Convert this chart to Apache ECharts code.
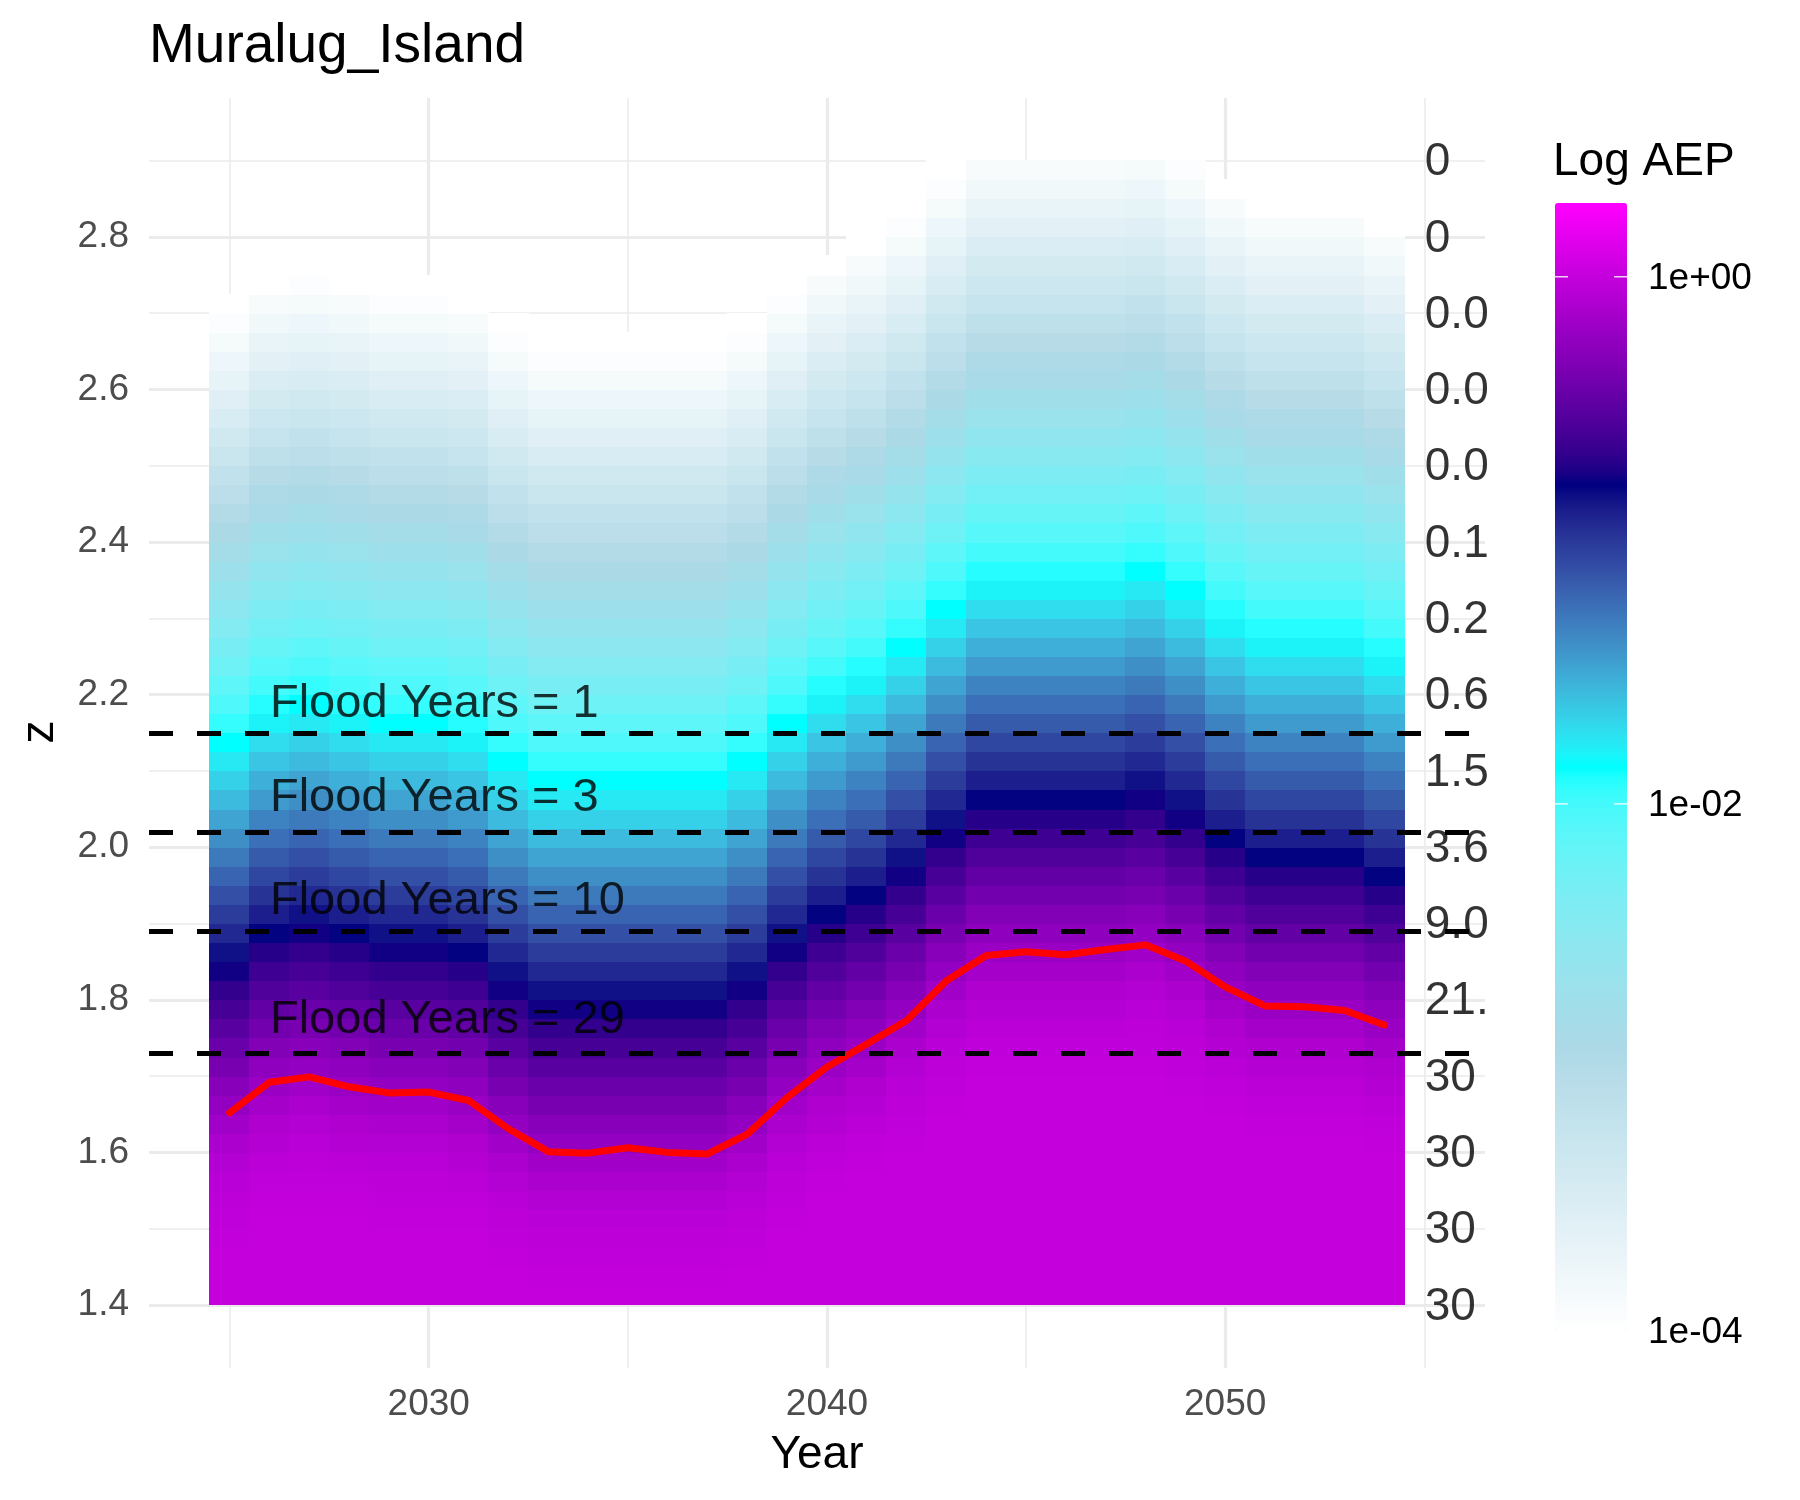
<!DOCTYPE html>
<html><head><meta charset="utf-8">
<script src="https://cdn.jsdelivr.net/npm/echarts@6/dist/echarts.min.js"></script>
<style>html,body{margin:0;padding:0;background:#fff}#c{width:1800px;height:1500px}</style>
</head><body><div id="c"></div>
<script>
// ---------------- data ----------------
const years = [2025,2026,2027,2028,2029,2030,2031,2032,2033,2034,2035,2036,2037,2038,2039,2040,2041,2042,2043,2044,2045,2046,2047,2048,2049,2050,2051,2052,2053,2054];
const zCenters = [1.4125,1.4375,1.4625,1.4875,1.5125,1.5375,1.5625,1.5875,1.6125,1.6375,1.6625,1.6875,1.7125,1.7375,1.7625,1.7875,1.8125,1.8375,1.8625,1.8875,1.9125,1.9375,1.9625,1.9875,2.0125,2.0375,2.0625,2.0875,2.1125,2.1375,2.1625,2.1875,2.2125,2.2375,2.2625,2.2875,2.3125,2.3375,2.3625,2.3875,2.4125,2.4375,2.4625,2.4875,2.5125,2.5375,2.5625,2.5875,2.6125,2.6375,2.6625,2.6875,2.7125,2.7375,2.7625,2.7875,2.8125,2.8375,2.8625,2.8875];
// log10 AEP per z cell (bottom to top), one array per year
const aep2025 = [0,0,0,-0.01,-0.02,-0.03,-0.05,-0.08,-0.12,-0.17,-0.23,-0.29,-0.36,-0.43,-0.51,-0.59,-0.67,-0.76,-0.84,-0.93,-1.02,-1.11,-1.2,-1.3,-1.39,-1.48,-1.58,-1.67,-1.77,-1.86,-1.95,-2.05,-2.14,-2.24,-2.33,-2.43,-2.52,-2.62,-2.71,-2.81,-2.91,-3,-3.1,-3.19,-3.29,-3.38,-3.48,-3.57,-3.67,-3.76,-3.86,-3.95,-4];
const aep2026 = [0,0,0,0,0,-0.01,-0.02,-0.04,-0.07,-0.1,-0.15,-0.2,-0.26,-0.32,-0.39,-0.47,-0.55,-0.63,-0.71,-0.8,-0.89,-0.98,-1.07,-1.16,-1.25,-1.34,-1.44,-1.53,-1.62,-1.72,-1.81,-1.91,-2,-2.1,-2.19,-2.29,-2.38,-2.48,-2.57,-2.67,-2.76,-2.86,-2.95,-3.05,-3.14,-3.24,-3.33,-3.43,-3.52,-3.62,-3.71,-3.81,-3.9,-4];
const aep2027 = [0,0,0,0,0,-0.01,-0.02,-0.03,-0.05,-0.08,-0.12,-0.17,-0.23,-0.29,-0.36,-0.43,-0.51,-0.59,-0.67,-0.76,-0.84,-0.93,-1.02,-1.11,-1.2,-1.3,-1.39,-1.48,-1.58,-1.67,-1.77,-1.86,-1.95,-2.05,-2.14,-2.24,-2.33,-2.43,-2.52,-2.62,-2.71,-2.81,-2.91,-3,-3.1,-3.19,-3.29,-3.38,-3.48,-3.57,-3.67,-3.76,-3.86,-3.95,-4];
const aep2028 = [0,0,0,0,0,-0.01,-0.02,-0.04,-0.07,-0.1,-0.15,-0.2,-0.26,-0.32,-0.39,-0.47,-0.55,-0.63,-0.71,-0.8,-0.89,-0.98,-1.07,-1.16,-1.25,-1.34,-1.44,-1.53,-1.62,-1.72,-1.81,-1.91,-2,-2.1,-2.19,-2.29,-2.38,-2.48,-2.57,-2.67,-2.76,-2.86,-2.95,-3.05,-3.14,-3.24,-3.33,-3.43,-3.52,-3.62,-3.71,-3.81,-3.9,-4];
const aep2029 = [0,0,0,0,-0.01,-0.02,-0.03,-0.05,-0.08,-0.12,-0.17,-0.23,-0.29,-0.36,-0.43,-0.51,-0.59,-0.67,-0.76,-0.84,-0.93,-1.02,-1.11,-1.2,-1.3,-1.39,-1.48,-1.58,-1.67,-1.77,-1.86,-1.95,-2.05,-2.14,-2.24,-2.33,-2.43,-2.52,-2.62,-2.71,-2.81,-2.91,-3,-3.1,-3.19,-3.29,-3.38,-3.48,-3.57,-3.67,-3.76,-3.86,-3.95,-4];
const aep2030 = [0,0,0,0,-0.01,-0.02,-0.03,-0.05,-0.08,-0.12,-0.17,-0.23,-0.29,-0.36,-0.43,-0.51,-0.59,-0.67,-0.76,-0.84,-0.93,-1.02,-1.11,-1.2,-1.3,-1.39,-1.48,-1.58,-1.67,-1.77,-1.86,-1.95,-2.05,-2.14,-2.24,-2.33,-2.43,-2.52,-2.62,-2.71,-2.81,-2.91,-3,-3.1,-3.19,-3.29,-3.38,-3.48,-3.57,-3.67,-3.76,-3.86,-3.95,-4];
const aep2031 = [0,0,0,0,-0.01,-0.02,-0.04,-0.07,-0.1,-0.15,-0.2,-0.26,-0.32,-0.39,-0.47,-0.55,-0.63,-0.71,-0.8,-0.89,-0.98,-1.07,-1.16,-1.25,-1.34,-1.44,-1.53,-1.62,-1.72,-1.81,-1.91,-2,-2.1,-2.19,-2.29,-2.38,-2.48,-2.57,-2.67,-2.76,-2.86,-2.95,-3.05,-3.14,-3.24,-3.33,-3.43,-3.52,-3.62,-3.71,-3.81,-3.9,-4];
const aep2032 = [0,0,-0.01,-0.02,-0.03,-0.05,-0.08,-0.12,-0.17,-0.23,-0.29,-0.36,-0.43,-0.51,-0.59,-0.67,-0.76,-0.84,-0.93,-1.02,-1.11,-1.2,-1.3,-1.39,-1.48,-1.58,-1.67,-1.77,-1.86,-1.95,-2.05,-2.14,-2.24,-2.33,-2.43,-2.52,-2.62,-2.71,-2.81,-2.91,-3,-3.1,-3.19,-3.29,-3.38,-3.48,-3.57,-3.67,-3.76,-3.86,-3.95,-4];
const aep2033 = [0,-0.01,-0.02,-0.03,-0.05,-0.08,-0.12,-0.17,-0.23,-0.29,-0.36,-0.43,-0.51,-0.59,-0.67,-0.76,-0.84,-0.93,-1.02,-1.11,-1.2,-1.3,-1.39,-1.48,-1.58,-1.67,-1.77,-1.86,-1.95,-2.05,-2.14,-2.24,-2.33,-2.43,-2.52,-2.62,-2.71,-2.81,-2.91,-3,-3.1,-3.19,-3.29,-3.38,-3.48,-3.57,-3.67,-3.76,-3.86,-3.95,-4];
const aep2034 = [0,-0.01,-0.02,-0.03,-0.05,-0.08,-0.12,-0.17,-0.23,-0.29,-0.36,-0.43,-0.51,-0.59,-0.67,-0.76,-0.84,-0.93,-1.02,-1.11,-1.2,-1.3,-1.39,-1.48,-1.58,-1.67,-1.77,-1.86,-1.95,-2.05,-2.14,-2.24,-2.33,-2.43,-2.52,-2.62,-2.71,-2.81,-2.91,-3,-3.1,-3.19,-3.29,-3.38,-3.48,-3.57,-3.67,-3.76,-3.86,-3.95,-4];
const aep2035 = [0,-0.01,-0.02,-0.03,-0.05,-0.08,-0.12,-0.17,-0.23,-0.29,-0.36,-0.43,-0.51,-0.59,-0.67,-0.76,-0.84,-0.93,-1.02,-1.11,-1.2,-1.3,-1.39,-1.48,-1.58,-1.67,-1.77,-1.86,-1.95,-2.05,-2.14,-2.24,-2.33,-2.43,-2.52,-2.62,-2.71,-2.81,-2.91,-3,-3.1,-3.19,-3.29,-3.38,-3.48,-3.57,-3.67,-3.76,-3.86,-3.95,-4];
const aep2036 = [0,-0.01,-0.02,-0.03,-0.05,-0.08,-0.12,-0.17,-0.23,-0.29,-0.36,-0.43,-0.51,-0.59,-0.67,-0.76,-0.84,-0.93,-1.02,-1.11,-1.2,-1.3,-1.39,-1.48,-1.58,-1.67,-1.77,-1.86,-1.95,-2.05,-2.14,-2.24,-2.33,-2.43,-2.52,-2.62,-2.71,-2.81,-2.91,-3,-3.1,-3.19,-3.29,-3.38,-3.48,-3.57,-3.67,-3.76,-3.86,-3.95,-4];
const aep2037 = [0,-0.01,-0.02,-0.03,-0.05,-0.08,-0.12,-0.17,-0.23,-0.29,-0.36,-0.43,-0.51,-0.59,-0.67,-0.76,-0.84,-0.93,-1.02,-1.11,-1.2,-1.3,-1.39,-1.48,-1.58,-1.67,-1.77,-1.86,-1.95,-2.05,-2.14,-2.24,-2.33,-2.43,-2.52,-2.62,-2.71,-2.81,-2.91,-3,-3.1,-3.19,-3.29,-3.38,-3.48,-3.57,-3.67,-3.76,-3.86,-3.95,-4];
const aep2038 = [0,0,-0.01,-0.02,-0.03,-0.05,-0.08,-0.12,-0.17,-0.23,-0.29,-0.36,-0.43,-0.51,-0.59,-0.67,-0.76,-0.84,-0.93,-1.02,-1.11,-1.2,-1.3,-1.39,-1.48,-1.58,-1.67,-1.77,-1.86,-1.95,-2.05,-2.14,-2.24,-2.33,-2.43,-2.52,-2.62,-2.71,-2.81,-2.91,-3,-3.1,-3.19,-3.29,-3.38,-3.48,-3.57,-3.67,-3.76,-3.86,-3.95,-4];
const aep2039 = [0,0,0,0,-0.01,-0.02,-0.03,-0.05,-0.08,-0.12,-0.17,-0.23,-0.29,-0.36,-0.43,-0.51,-0.59,-0.67,-0.76,-0.84,-0.93,-1.02,-1.11,-1.2,-1.3,-1.39,-1.48,-1.58,-1.67,-1.77,-1.86,-1.95,-2.05,-2.14,-2.24,-2.33,-2.43,-2.52,-2.62,-2.71,-2.81,-2.91,-3,-3.1,-3.19,-3.29,-3.38,-3.48,-3.57,-3.67,-3.76,-3.86,-3.95,-4];
const aep2040 = [0,0,0,0,0,0,-0.01,-0.02,-0.04,-0.07,-0.1,-0.15,-0.2,-0.26,-0.32,-0.39,-0.47,-0.55,-0.63,-0.71,-0.8,-0.89,-0.98,-1.07,-1.16,-1.25,-1.34,-1.44,-1.53,-1.62,-1.72,-1.81,-1.91,-2,-2.1,-2.19,-2.29,-2.38,-2.48,-2.57,-2.67,-2.76,-2.86,-2.95,-3.05,-3.14,-3.24,-3.33,-3.43,-3.52,-3.62,-3.71,-3.81,-3.9,-4];
const aep2041 = [0,0,0,0,0,0,0,-0.01,-0.02,-0.04,-0.07,-0.1,-0.15,-0.2,-0.26,-0.32,-0.39,-0.47,-0.55,-0.63,-0.71,-0.8,-0.89,-0.98,-1.07,-1.16,-1.25,-1.34,-1.44,-1.53,-1.62,-1.72,-1.81,-1.91,-2,-2.1,-2.19,-2.29,-2.38,-2.48,-2.57,-2.67,-2.76,-2.86,-2.95,-3.05,-3.14,-3.24,-3.33,-3.43,-3.52,-3.62,-3.71,-3.81,-3.9,-4];
const aep2042 = [0,0,0,0,0,0,0,0,-0.01,-0.02,-0.03,-0.05,-0.08,-0.12,-0.17,-0.23,-0.29,-0.36,-0.43,-0.51,-0.59,-0.67,-0.76,-0.84,-0.93,-1.02,-1.11,-1.2,-1.3,-1.39,-1.48,-1.58,-1.67,-1.77,-1.86,-1.95,-2.05,-2.14,-2.24,-2.33,-2.43,-2.52,-2.62,-2.71,-2.81,-2.91,-3,-3.1,-3.19,-3.29,-3.38,-3.48,-3.57,-3.67,-3.76,-3.86,-3.95,-4];
const aep2043 = [0,0,0,0,0,0,0,0,0,0,-0.01,-0.02,-0.03,-0.05,-0.08,-0.12,-0.17,-0.23,-0.29,-0.36,-0.43,-0.51,-0.59,-0.67,-0.76,-0.84,-0.93,-1.02,-1.11,-1.2,-1.3,-1.39,-1.48,-1.58,-1.67,-1.77,-1.86,-1.95,-2.05,-2.14,-2.24,-2.33,-2.43,-2.52,-2.62,-2.71,-2.81,-2.91,-3,-3.1,-3.19,-3.29,-3.38,-3.48,-3.57,-3.67,-3.76,-3.86,-3.95,-4];
const aep2044 = [0,0,0,0,0,0,0,0,0,0,0,0,-0.01,-0.02,-0.04,-0.07,-0.1,-0.15,-0.2,-0.26,-0.32,-0.39,-0.47,-0.55,-0.63,-0.71,-0.8,-0.89,-0.98,-1.07,-1.16,-1.25,-1.34,-1.44,-1.53,-1.62,-1.72,-1.81,-1.91,-2,-2.1,-2.19,-2.29,-2.38,-2.48,-2.57,-2.67,-2.76,-2.86,-2.95,-3.05,-3.14,-3.24,-3.33,-3.43,-3.52,-3.62,-3.71,-3.81,-3.9];
const aep2045 = [0,0,0,0,0,0,0,0,0,0,0,0,-0.01,-0.02,-0.04,-0.07,-0.1,-0.15,-0.2,-0.26,-0.32,-0.39,-0.47,-0.55,-0.63,-0.71,-0.8,-0.89,-0.98,-1.07,-1.16,-1.25,-1.34,-1.44,-1.53,-1.62,-1.72,-1.81,-1.91,-2,-2.1,-2.19,-2.29,-2.38,-2.48,-2.57,-2.67,-2.76,-2.86,-2.95,-3.05,-3.14,-3.24,-3.33,-3.43,-3.52,-3.62,-3.71,-3.81,-3.9];
const aep2046 = [0,0,0,0,0,0,0,0,0,0,0,0,-0.01,-0.02,-0.04,-0.07,-0.1,-0.15,-0.2,-0.26,-0.32,-0.39,-0.47,-0.55,-0.63,-0.71,-0.8,-0.89,-0.98,-1.07,-1.16,-1.25,-1.34,-1.44,-1.53,-1.62,-1.72,-1.81,-1.91,-2,-2.1,-2.19,-2.29,-2.38,-2.48,-2.57,-2.67,-2.76,-2.86,-2.95,-3.05,-3.14,-3.24,-3.33,-3.43,-3.52,-3.62,-3.71,-3.81,-3.9];
const aep2047 = [0,0,0,0,0,0,0,0,0,0,0,0,-0.01,-0.02,-0.04,-0.07,-0.1,-0.15,-0.2,-0.26,-0.32,-0.39,-0.47,-0.55,-0.63,-0.71,-0.8,-0.89,-0.98,-1.07,-1.16,-1.25,-1.34,-1.44,-1.53,-1.62,-1.72,-1.81,-1.91,-2,-2.1,-2.19,-2.29,-2.38,-2.48,-2.57,-2.67,-2.76,-2.86,-2.95,-3.05,-3.14,-3.24,-3.33,-3.43,-3.52,-3.62,-3.71,-3.81,-3.9];
const aep2048 = [0,0,0,0,0,0,0,0,0,0,0,0,-0.01,-0.02,-0.03,-0.05,-0.08,-0.12,-0.17,-0.23,-0.29,-0.36,-0.43,-0.51,-0.59,-0.67,-0.76,-0.84,-0.93,-1.02,-1.11,-1.2,-1.3,-1.39,-1.48,-1.58,-1.67,-1.77,-1.86,-1.95,-2.05,-2.14,-2.24,-2.33,-2.43,-2.52,-2.62,-2.71,-2.81,-2.91,-3,-3.1,-3.19,-3.29,-3.38,-3.48,-3.57,-3.67,-3.76,-3.86];
const aep2049 = [0,0,0,0,0,0,0,0,0,0,0,-0.01,-0.02,-0.03,-0.05,-0.08,-0.12,-0.17,-0.23,-0.29,-0.36,-0.43,-0.51,-0.59,-0.67,-0.76,-0.84,-0.93,-1.02,-1.11,-1.2,-1.3,-1.39,-1.48,-1.58,-1.67,-1.77,-1.86,-1.95,-2.05,-2.14,-2.24,-2.33,-2.43,-2.52,-2.62,-2.71,-2.81,-2.91,-3,-3.1,-3.19,-3.29,-3.38,-3.48,-3.57,-3.67,-3.76,-3.86,-3.95];
const aep2050 = [0,0,0,0,0,0,0,0,0,0,-0.01,-0.02,-0.04,-0.07,-0.1,-0.15,-0.2,-0.26,-0.32,-0.39,-0.47,-0.55,-0.63,-0.71,-0.8,-0.89,-0.98,-1.07,-1.16,-1.25,-1.34,-1.44,-1.53,-1.62,-1.72,-1.81,-1.91,-2,-2.1,-2.19,-2.29,-2.38,-2.48,-2.57,-2.67,-2.76,-2.86,-2.95,-3.05,-3.14,-3.24,-3.33,-3.43,-3.52,-3.62,-3.71,-3.81,-3.9,-4];
const aep2051 = [0,0,0,0,0,0,0,0,0,-0.01,-0.02,-0.04,-0.07,-0.1,-0.15,-0.2,-0.26,-0.32,-0.39,-0.47,-0.55,-0.63,-0.71,-0.8,-0.89,-0.98,-1.07,-1.16,-1.25,-1.34,-1.44,-1.53,-1.62,-1.72,-1.81,-1.91,-2,-2.1,-2.19,-2.29,-2.38,-2.48,-2.57,-2.67,-2.76,-2.86,-2.95,-3.05,-3.14,-3.24,-3.33,-3.43,-3.52,-3.62,-3.71,-3.81,-3.9,-4];
const aep2052 = [0,0,0,0,0,0,0,0,0,-0.01,-0.02,-0.04,-0.07,-0.1,-0.15,-0.2,-0.26,-0.32,-0.39,-0.47,-0.55,-0.63,-0.71,-0.8,-0.89,-0.98,-1.07,-1.16,-1.25,-1.34,-1.44,-1.53,-1.62,-1.72,-1.81,-1.91,-2,-2.1,-2.19,-2.29,-2.38,-2.48,-2.57,-2.67,-2.76,-2.86,-2.95,-3.05,-3.14,-3.24,-3.33,-3.43,-3.52,-3.62,-3.71,-3.81,-3.9,-4];
const aep2053 = [0,0,0,0,0,0,0,0,0,-0.01,-0.02,-0.04,-0.07,-0.1,-0.15,-0.2,-0.26,-0.32,-0.39,-0.47,-0.55,-0.63,-0.71,-0.8,-0.89,-0.98,-1.07,-1.16,-1.25,-1.34,-1.44,-1.53,-1.62,-1.72,-1.81,-1.91,-2,-2.1,-2.19,-2.29,-2.38,-2.48,-2.57,-2.67,-2.76,-2.86,-2.95,-3.05,-3.14,-3.24,-3.33,-3.43,-3.52,-3.62,-3.71,-3.81,-3.9,-4];
const aep2054 = [0,0,0,0,0,0,0,0,-0.01,-0.02,-0.04,-0.07,-0.1,-0.15,-0.2,-0.26,-0.32,-0.39,-0.47,-0.55,-0.63,-0.71,-0.8,-0.89,-0.98,-1.07,-1.16,-1.25,-1.34,-1.44,-1.53,-1.62,-1.72,-1.81,-1.91,-2,-2.1,-2.19,-2.29,-2.38,-2.48,-2.57,-2.67,-2.76,-2.86,-2.95,-3.05,-3.14,-3.24,-3.33,-3.43,-3.52,-3.62,-3.71,-3.81,-3.9,-4];
const aepByYear = [aep2025,aep2026,aep2027,aep2028,aep2029,aep2030,aep2031,aep2032,aep2033,aep2034,aep2035,aep2036,aep2037,aep2038,aep2039,aep2040,aep2041,aep2042,aep2043,aep2044,aep2045,aep2046,aep2047,aep2048,aep2049,aep2050,aep2051,aep2052,aep2053,aep2054];

const medianLevel = [1.652,1.692,1.699,1.686,1.678,1.679,1.668,1.631,1.601,1.599,1.606,1.600,1.598,1.624,1.672,1.712,1.742,1.773,1.825,1.858,1.863,1.859,1.866,1.872,1.851,1.817,1.792,1.791,1.786,1.767];

const floodLevels = [2.146, 2.023, 1.888, 1.731];
const floodYears = [1, 3, 10, 29];
const floodLabelYear = 2026;

const zTicks = [1.4,1.5,1.6,1.7,1.8,1.9,2.0,2.1,2.2,2.3,2.4,2.5,2.6,2.7,2.8,2.9];
const rightLabels = ['30','30','30','30','21.','9.0','3.6','1.5','0.6','0.2','0.1','0.0','0.0','0.0','0','0'];
const rightLabelYear = 2055;

const yLabelTicks = [1.4,1.6,1.8,2.0,2.2,2.4,2.6,2.8];
const yMinorTicks = [1.5,1.7,1.9,2.1,2.3,2.5,2.7,2.9];
const xLabelTicks = [2030,2040,2050];
const xMinorTicks = [2025,2035,2045,2055];

const legendBreaks = [0, -2, -4];
const legendLabels = ['1e+00','1e-02','1e-04'];
const legendMin = -4, legendMax = 0.28;

// ---------------- style helpers ----------------
const FONT = '"Liberation Sans", Arial, Helvetica, sans-serif';
const BAR = {x:1555, y:203, w:72, h:1128};
const TXT_DY = 2; // small downward nudge for text baselines
const baseColors = ['#FFFFFF','#ADD8E6','#00FFFF','#000080','#FF00FF'];

function hexToRgb(h){return [1,3,5].map(i=>parseInt(h.slice(i,i+2),16));}
function toLin(c){c/=255;return c<=0.04045?c/12.92:Math.pow((c+0.055)/1.055,2.4);}
function fromLin(c){c=c<=0.0031308?12.92*c:1.055*Math.pow(c,1/2.4)-0.055;return Math.round(Math.min(1,Math.max(0,c))*255);}
const WX=0.95047, WZ=1.08883;
function rgbToLab(rgb){const [r,g,b]=rgb.map(toLin);
  const X=(0.4124564*r+0.3575761*g+0.1804375*b)/WX, Y=0.2126729*r+0.7151522*g+0.0721750*b, Z=(0.0193339*r+0.1191920*g+0.9503041*b)/WZ;
  const f=t=>t>216/24389?Math.cbrt(t):(24389/27*t+16)/116;
  const fx=f(X),fy=f(Y),fz=f(Z); return [116*fy-16,500*(fx-fy),200*(fy-fz)];}
function labToHex(lab){const [L,a,b]=lab; const fy=(L+16)/116, fx=fy+a/500, fz=fy-b/200;
  const inv=t=>{const t3=t*t*t; return t3>216/24389?t3:(116*t-16)/(24389/27);};
  const X=inv(fx)*WX, Y=inv(fy), Z=inv(fz)*WZ;
  const r=3.2404542*X-1.5371385*Y-0.4985314*Z, g=-0.9692660*X+1.8760108*Y+0.0415560*Z, bb=0.0556434*X-0.2040259*Y+1.0572252*Z;
  return '#'+[r,g,bb].map(fromLin).map(v=>v.toString(16).padStart(2,'0')).join('');}
function labPalette(colors,n){const labs=colors.map(c=>rgbToLab(hexToRgb(c)));const out=[];
  for(let i=0;i<n;i++){const t=i/(n-1)*(labs.length-1);const j=Math.min(Math.floor(t),labs.length-2);const f=t-j;
    out.push(labToHex(labs[j].map((v,q)=>v+(labs[j+1][q]-v)*f)));}
  return out;}

// ---------------- build ----------------
const heatData = [];
aepByYear.forEach((col,i)=>col.forEach((v,k)=>heatData.push([years[i], zCenters[k], v])));
const halfZ = (zCenters[1]-zCenters[0])/2;

const gridLineData = [].concat(
  xLabelTicks.map(v=>({xAxis:v, lineStyle:{color:'#EBEBEB', width:3.2, type:'solid'}})),
  xMinorTicks.map(v=>({xAxis:v, lineStyle:{color:'#EBEBEB', width:1.6, type:'solid'}})),
  yLabelTicks.map(v=>({yAxis:v, lineStyle:{color:'#EBEBEB', width:3.2, type:'solid'}})),
  yMinorTicks.map(v=>({yAxis:v, lineStyle:{color:'#EBEBEB', width:1.6, type:'solid'}}))
);

const legendY = v => BAR.y + (legendMax - v)/(legendMax - legendMin)*BAR.h;
const graphics = [
  {type:'text', x:149, y:45+TXT_DY, z:100, style:{text:'Muralug_Island', font:'55px '+FONT, fill:'#000', align:'left', verticalAlign:'middle'}},
  {type:'text', x:817, y:1453+TXT_DY, z:100, style:{text:'Year', font:'46px '+FONT, fill:'#000', align:'center', verticalAlign:'middle'}},
  {type:'text', x:40, y:732, z:100, rotation:Math.PI/2, style:{text:'z', font:'46px '+FONT, fill:'#000', align:'center', verticalAlign:'middle'}},
  {type:'text', x:1553, y:160+TXT_DY, z:100, style:{text:'Log AEP', font:'46px '+FONT, fill:'#000', align:'left', verticalAlign:'middle'}}
];
legendBreaks.forEach((b,i)=>{
  const y = legendY(b);
  graphics.push({type:'text', x:1648, y:y+TXT_DY, z:100, style:{text:legendLabels[i], font:'37px '+FONT, fill:'#000', align:'left', verticalAlign:'middle'}});
  if (y <= BAR.y + BAR.h) {
    graphics.push({type:'line', z:100, shape:{x1:BAR.x, y1:y, x2:BAR.x+13, y2:y}, style:{stroke:'#fff', lineWidth:1.2}});
    graphics.push({type:'line', z:100, shape:{x1:BAR.x+BAR.w-13, y1:y, x2:BAR.x+BAR.w, y2:y}, style:{stroke:'#fff', lineWidth:1.2}});
  }
});

const option = {
  animation:false,
  backgroundColor:'#ffffff',
  textStyle:{fontFamily:FONT},
  grid:{left:149, right:315, top:98, bottom:132, containLabel:false},
  xAxis:{type:'value', min:2022.975, max:2056.525,
    axisLine:{show:false}, axisTick:{show:false}, splitLine:{show:false},
    axisLabel:{customValues:xLabelTicks, color:'#4D4D4D', fontSize:37, margin:16+TXT_DY, formatter:v=>String(v)}},
  yAxis:{type:'value', min:1.3174, max:2.982,
    axisLine:{show:false}, axisTick:{show:false}, splitLine:{show:false},
    axisLabel:{customValues:yLabelTicks, color:'#4D4D4D', fontSize:37, margin:20, padding:[2*TXT_DY,0,0,0], formatter:v=>v.toFixed(1)}},
  visualMap:{type:'continuous', seriesIndex:1, dimension:2, min:legendMin, max:legendMax,
    calculable:false, hoverLink:false, show:true, left:BAR.x, top:BAR.y, padding:0,
    itemWidth:BAR.w, itemHeight:BAR.h, text:null,
    inRange:{color:labPalette(baseColors, 81)}},
  series:[
    {type:'line', z:1, silent:true, data:[], symbol:'none',
      markLine:{z:1, silent:true, symbol:['none','none'], label:{show:false}, animation:false, data:gridLineData}},
    {type:'custom', z:2, silent:true, data:heatData, encode:{x:0, y:1},
      renderItem:(params, api)=>{
        const x=api.value(0), z=api.value(1);
        const a=api.coord([x-0.5, z+halfZ]), b=api.coord([x+0.5, z-halfZ]);
        const x0=Math.floor(a[0]), y0=Math.floor(a[1]), x1=Math.ceil(b[0]), y1=Math.ceil(b[1]);
        return {type:'rect', shape:{x:x0, y:y0, width:x1-x0, height:y1-y0}, style:{fill:api.visual('color')}};
      }},
    {type:'line', z:4, silent:true, symbol:'none', data:years.map((y,i)=>[y, medianLevel[i]]),
      lineStyle:{color:'#FF0000', width:7, join:'round', cap:'round'}},
    {type:'line', z:5, silent:true, data:[], symbol:'none',
      markLine:{z:5, silent:true, symbol:['none','none'], label:{show:false}, animation:false,
        lineStyle:{color:'#000000', width:5, type:[24,24], cap:'butt'},
        data:floodLevels.map(v=>({yAxis:v}))}},
    {type:'scatter', z:6, silent:true, symbolSize:1, itemStyle:{color:'rgba(0,0,0,0)'},
      data:floodLevels.map((v,i)=>[floodLabelYear, v, 'Flood Years = '+floodYears[i]]),
      label:{show:true, position:'right', distance:0, offset:[0,-34+TXT_DY], formatter:p=>p.data[2],
        fontSize:47, color:'#000', fontFamily:FONT}},
    {type:'scatter', z:6, silent:true, symbolSize:1, itemStyle:{color:'rgba(0,0,0,0)'},
      data:zTicks.map((z,i)=>[rightLabelYear, z, rightLabels[i]]),
      label:{show:true, position:'right', distance:0, offset:[0,TXT_DY], formatter:p=>p.data[2],
        fontSize:46, color:'#000', fontFamily:FONT}}
  ],
  graphic:graphics
};

const chart = echarts.init(document.getElementById('c'), null, {renderer:'canvas', width:1800, height:1500});
chart.setOption(option);
</script>
</body></html>
